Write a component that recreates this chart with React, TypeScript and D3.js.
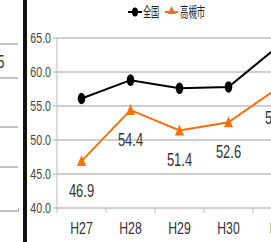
import React from "react";
import * as d3 from "d3";

const categories = ["H27", "H28", "H29", "H30", "R1"];
const nationalValues = [56.1, 58.8, 57.6, 57.8, 63.7];
const takatsukiValues = [46.9, 54.4, 51.4, 52.6, 57.6];
const yTicks = [40, 45, 50, 55, 60, 65];
const seriesNames = ["全国", "高槻市"];

const W = 271;
const H = 242;

function NText(props: any) {
  const { x, y, sx = 0.75, children, ...rest } = props;
  return (
    <text transform={`translate(${x},${y}) scale(${sx},1)`} {...rest}>
      {children}
    </text>
  );
}

export default function App() {
  const x = d3.scaleBand<string>().domain(categories).range([57, 302]);
  const y = d3.scaleLinear().domain([40, 65]).range([208, 38]);
  const cx = (c: string) => (x(c) as number) + x.bandwidth() / 2;

  const line = d3
    .line<number>()
    .x((_, i) => cx(categories[i]))
    .y((d) => y(d));

  const orange = "#F7700F";
  const font = "'Liberation Sans', Arial, sans-serif";

  return (
    <svg
      width={W}
      height={H}
      style={{ position: "absolute", left: 0, top: 0, background: "#fff" }}
      fontFamily={font}
    >
      <rect x={0} y={0} width={W} height={H} fill="#fff" />
      {/* left fragment of neighbouring chart */}
      {[44, 78, 127, 167, 211].map((yy) => (
        <line key={yy} x1={0} x2={18} y1={yy} y2={yy} stroke="#999" strokeWidth={1.2} />
      ))}
      <line x1={18.5} x2={18.5} y1={208} y2={211} stroke="#999" />
      <NText x={-3} y={68} fontSize={18} fill="#333">5</NText>
      <rect x={23} y={0} width={4} height={H} fill="#111" />

      {/* grid */}
      {yTicks.map((t) => (
        <g key={t}>
          <line x1={57} x2={W} y1={y(t)} y2={y(t)} stroke="#a0a0a0" strokeWidth={1.2} />
          <line x1={53} x2={57} y1={y(t)} y2={y(t)} stroke="#aaa" />
          <NText x={51} y={y(t) + 5} fontSize={14} sx={0.76} textAnchor="end" fill="#444">
            {t.toFixed(1)}
          </NText>
        </g>
      ))}
      <line x1={57} x2={57} y1={y(65)} y2={y(40) + 5} stroke="#bbb" />
      {categories.map((c) => (
        <line key={c} x1={(x(c) as number) + x.bandwidth()} x2={(x(c) as number) + x.bandwidth()} y1={y(40)} y2={y(40) + 5} stroke="#bbb" />
      ))}
      {categories.map((c) => (
        <NText key={c} x={cx(c)} y={234} fontSize={17} sx={0.72} textAnchor="middle" fill="#333">
          {c}
        </NText>
      ))}

      {/* national */}
      <path d={line(nationalValues) as string} fill="none" stroke="#000" strokeWidth={2} />
      {nationalValues.map((v, i) => (
        <ellipse key={i} cx={cx(categories[i])} cy={y(v)} rx={3.8} ry={5.8} fill="#000" />
      ))}

      {/* takatsuki */}
      <path d={line(takatsukiValues) as string} fill="none" stroke={orange} strokeWidth={2} />
      {takatsukiValues.map((v, i) => {
        const px = cx(categories[i]);
        const py = y(v);
        return (
          <path key={i} d={`M${px},${py - 6}L${px + 4.5},${py + 5}L${px - 4.5},${py + 5}Z`} fill={orange} />
        );
      })}
      {takatsukiValues.map((v, i) => (
        <NText key={i} x={cx(categories[i])} y={y(v) + 35.5} fontSize={18} sx={0.72} textAnchor="middle" fill="#333">
          {v.toFixed(1)}
        </NText>
      ))}

      {/* legend */}
      <line x1={128} x2={142} y1={12} y2={12} stroke="#000" strokeWidth={2} />
      <ellipse cx={135} cy={12} rx={3} ry={4.5} fill="#000" />
      <NText x={143} y={17} fontSize={14} sx={0.58} fill="#222" fontFamily="'Noto Sans CJK JP', sans-serif">
        {seriesNames[0]}
      </NText>
      <line x1={165} x2={178} y1={12} y2={12} stroke={orange} strokeWidth={2} />
      <path d="M171.5,6L175.5,14L167.5,14Z" fill={orange} />
      <NText x={180} y={17} fontSize={14} sx={0.6} fill="#222" fontFamily="'Noto Sans CJK JP', sans-serif">
        {seriesNames[1]}
      </NText>
    </svg>
  );
}
